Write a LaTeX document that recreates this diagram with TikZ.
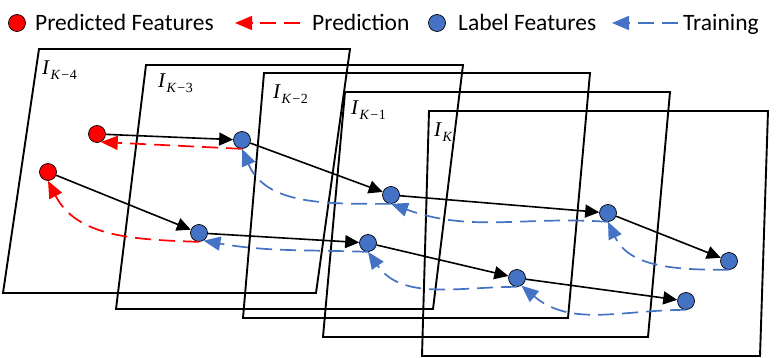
\documentclass[tikz,border=0pt]{standalone}
\usepackage{fontspec}
\setmainfont{Liberation Serif}
\newfontfamily\legfont{Carlito}
\usetikzlibrary{arrows.meta}
\definecolor{labblue}{RGB}{68,114,196}
\begin{document}
\begin{tikzpicture}[x=1pt,y=-1pt,
  frame/.style={line width=1.9pt,line join=miter},
  feat/.style={circle,draw=black,line width=0.7pt,minimum size=17pt,inner sep=0pt},
  predf/.style={feat,fill=red},
  labf/.style={feat,fill=labblue},
  flow/.style={line width=1.6pt,-{Triangle[length=14pt,width=13pt]}},
  dashline/.style={line width=1.7pt,dash pattern=on 16pt off 8pt,-{Triangle[length=17pt,width=14pt]}},
  predline/.style={dashline,draw=red},
  trainline/.style={dashline,draw=labblue},
  lbl/.style={anchor=base west,inner sep=0pt,font=\fontsize{21}{21}\selectfont},
  leg/.style={anchor=base west,inner sep=0pt,font=\legfont\fontsize{23.5}{23.5}\selectfont}]
\useasboundingbox (0,0) rectangle (776,358);

% frames
\draw[frame] (39,49) -- (350,49) -- (316,293) -- (3,293) -- cycle;
\draw[frame] (146,65) -- (463,65) -- (433,309) -- (116,309) -- cycle;
\draw[frame] (264,73) -- (590,73) -- (568,318) -- (243,318) -- cycle;
\draw[frame] (345,92) -- (670,92) -- (648,337) -- (323,337) -- cycle;
\draw[frame] (429,111) -- (768,111) -- (760,356) -- (422,356) -- cycle;

% frame labels
\newcommand{\sublbl}[1]{\kern0.5pt\raisebox{-5pt}{\fontsize{14}{14}\selectfont #1}}
\node[lbl] (lk4) at (42,75)  {\textit{I}\sublbl{\textit{K}\kern1pt−\kern0.5pt4}};
\node[lbl] (lk3) at (158,88) {\textit{I}\sublbl{\textit{K}\kern1pt−\kern0.5pt3}};
\node[lbl] (lk2) at (273,99) {\textit{I}\sublbl{\textit{K}\kern1pt−\kern0.5pt2}};
\node[lbl] (lk1) at (351,115){\textit{I}\sublbl{\textit{K}\kern1pt−\kern0.5pt1}};
\node[lbl] (lk0) at (434,137){\textit{I}\sublbl{\textit{K}}};

% feature nodes
\node[predf] (r1) at (97,134) {};
\node[predf] (r2) at (48,172) {};
\node[labf] (a) at (242,140) {};
\node[labf] (b) at (199,233) {};
\node[labf] (c) at (391,195) {};
\node[labf] (d) at (368,243) {};
\node[labf] (e) at (608,213) {};
\node[labf] (f) at (517,278) {};
\node[labf] (g) at (729,261) {};
\node[labf] (h) at (686,301) {};

% flow arrows
\draw[flow] (r1) -- (a);
\draw[flow] (r2) -- (b);
\draw[flow] (a) -- (c);
\draw[flow] (b) -- (d);
\draw[flow] (c) -- (e);
\draw[flow] (d) -- (f);
\draw[flow] (e) -- (g);
\draw[flow] (f) -- (h);

% prediction (red dashed)
\draw[predline] (a.south) -- (r1.-65);
\draw[predline] (b.south) to[out=178,in=-63] (r2.south);

% training (blue dashed)
\draw[trainline] (c.south) to[out=180,in=-67] (a.south);
\draw[trainline] (d.south) to[out=178,in=-10] (b.-60);
\draw[trainline] (e.south) to[out=176,in=-20] (c.south);
\draw[trainline] (f.south) to[out=180,in=-55] (d.south);
\draw[trainline] (g.south) to[out=180,in=-65] (e.south);
\draw[trainline] (h.south) to[out=180,in=-40] (f.-60);

% legend
\node[predf] (lr) at (17,23) {};
\node[leg] (lt1) at (35,31) {Predicted Features};
\coordinate (lpa) at (300,23);
\coordinate (lpb) at (235,23);
\draw[predline] (lpa) -- (lpb);
\node[leg] (lt2) at (312,31) {Prediction};
\node[labf] (lb) at (437,23) {};
\node[leg] (lt3) at (458,31) {Label Features};
\coordinate (lta) at (678,23);
\coordinate (ltb) at (612,23);
\draw[trainline] (lta) -- (ltb);
\node[leg] (lt4) at (683,31) {Training};
\end{tikzpicture}
\end{document}
